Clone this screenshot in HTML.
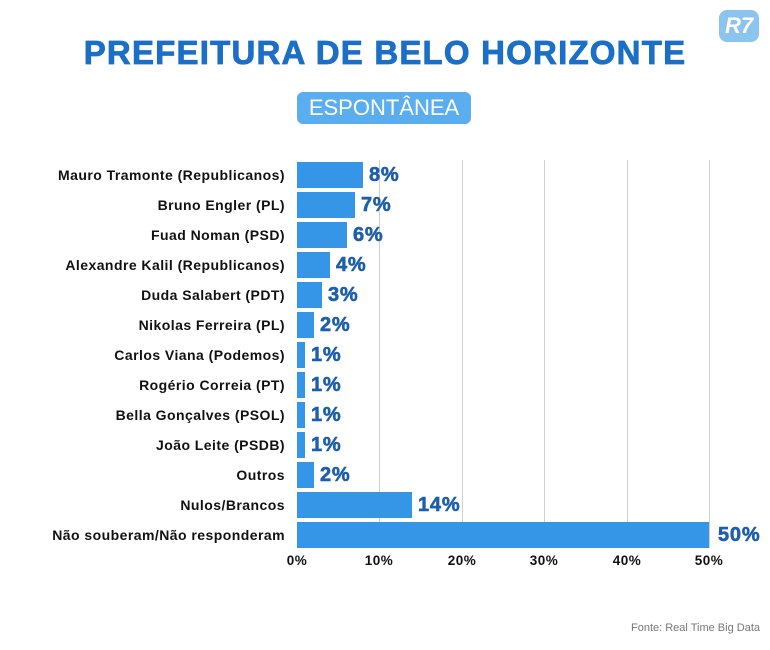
<!DOCTYPE html>
<html><head><meta charset="utf-8"><style>
body{margin:0;width:770px;height:650px;background:#fff;position:relative;overflow:hidden;font-family:"Liberation Sans",sans-serif}
.t{position:absolute;left:0;width:770px;top:34px;text-align:center;font-size:33px;font-weight:900;color:#1b6fc6;letter-spacing:1.2px;-webkit-text-stroke:0.8px #1b6fc6}
.b{position:absolute;left:297px;top:92px;width:174px;height:32px;background:#5aaef0;border-radius:6px;color:#fff;font-size:22px;text-align:center;line-height:32px}
.g{position:absolute;top:160px;height:388px;width:1px;background:#d0d0d0}
.bar{position:absolute;left:297px;height:26px;background:#3596e8}
.l{position:absolute;right:485px;font-size:14px;letter-spacing:0.45px;font-weight:bold;color:#111;white-space:nowrap;line-height:26px}
.v{position:absolute;font-size:20px;letter-spacing:0.8px;font-weight:900;color:#1d5fab;line-height:26px;-webkit-text-stroke:0.6px #1d5fab}
.x{position:absolute;top:553px;font-size:13.5px;letter-spacing:0.5px;font-weight:bold;color:#111;width:50px;margin-left:-25px;text-align:center}
.f{position:absolute;right:10px;top:622px;font-size:11px;color:#777}
.r7{position:absolute;left:719px;top:10px;width:40px;height:32px;background:#8cc4f0;border-radius:8px;color:#fff;font-weight:900;font-size:22px;text-align:center;line-height:32px;font-style:italic}
</style></head><body>
<div class="r7">R7</div>
<div class="t">PREFEITURA DE BELO HORIZONTE</div>
<div class="b">ESPONTÂNEA</div>
<div class="g" style="left:379px"></div><div class="g" style="left:462px"></div><div class="g" style="left:544px"></div><div class="g" style="left:627px"></div><div class="g" style="left:709px"></div>
<div class="l" style="top:162px">Mauro Tramonte (Republicanos)</div><div class="bar" style="top:162px;width:66px"></div><div class="v" style="top:162px;left:369px">8%</div>
<div class="l" style="top:192px">Bruno Engler (PL)</div><div class="bar" style="top:192px;width:58px"></div><div class="v" style="top:192px;left:361px">7%</div>
<div class="l" style="top:222px">Fuad Noman (PSD)</div><div class="bar" style="top:222px;width:50px"></div><div class="v" style="top:222px;left:353px">6%</div>
<div class="l" style="top:252px">Alexandre Kalil (Republicanos)</div><div class="bar" style="top:252px;width:33px"></div><div class="v" style="top:252px;left:336px">4%</div>
<div class="l" style="top:282px">Duda Salabert (PDT)</div><div class="bar" style="top:282px;width:25px"></div><div class="v" style="top:282px;left:328px">3%</div>
<div class="l" style="top:312px">Nikolas Ferreira (PL)</div><div class="bar" style="top:312px;width:17px"></div><div class="v" style="top:312px;left:320px">2%</div>
<div class="l" style="top:342px">Carlos Viana (Podemos)</div><div class="bar" style="top:342px;width:8px"></div><div class="v" style="top:342px;left:311px">1%</div>
<div class="l" style="top:372px">Rogério Correia (PT)</div><div class="bar" style="top:372px;width:8px"></div><div class="v" style="top:372px;left:311px">1%</div>
<div class="l" style="top:402px">Bella Gonçalves (PSOL)</div><div class="bar" style="top:402px;width:8px"></div><div class="v" style="top:402px;left:311px">1%</div>
<div class="l" style="top:432px">João Leite (PSDB)</div><div class="bar" style="top:432px;width:8px"></div><div class="v" style="top:432px;left:311px">1%</div>
<div class="l" style="top:462px">Outros</div><div class="bar" style="top:462px;width:17px"></div><div class="v" style="top:462px;left:320px">2%</div>
<div class="l" style="top:492px">Nulos/Brancos</div><div class="bar" style="top:492px;width:115px"></div><div class="v" style="top:492px;left:418px">14%</div>
<div class="l" style="top:522px">Não souberam/Não responderam</div><div class="bar" style="top:522px;width:412px"></div><div class="v" style="top:522px;left:718px">50%</div>
<div class="x" style="left:297px">0%</div><div class="x" style="left:379px">10%</div><div class="x" style="left:462px">20%</div><div class="x" style="left:544px">30%</div><div class="x" style="left:627px">40%</div><div class="x" style="left:709px">50%</div>
<div class="f">Fonte: Real Time Big Data</div>
</body></html>
